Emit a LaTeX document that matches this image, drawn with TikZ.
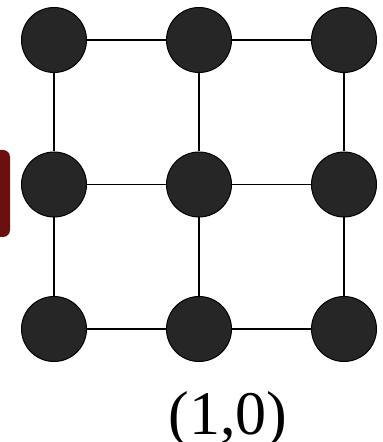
\documentclass[tikz,border=0pt]{standalone}
\usepackage{fontspec}
\setmainfont{Liberation Serif}
\usetikzlibrary{positioning}
\definecolor{SiteGray}{HTML}{262626}
\definecolor{HoleRed}{HTML}{6B1010}
\tikzset{
  site/.style={circle, draw=black, line width=1pt, fill=SiteGray, minimum size=65pt, inner sep=0pt},
  marker/.style={draw=none, rounded corners=7pt, fill=HoleRed, minimum width=44pt, minimum height=87pt},
  bond/.style={line width=1.4pt, draw=black},
  coordlabel/.style={font=\fontsize{62}{62}\selectfont, inner sep=0pt, anchor=base}
}
\begin{document}
\begin{tikzpicture}[x=1pt, y=1pt, node distance=79pt]
  \useasboundingbox (0,0) rectangle (383,442);
  \node[marker] (hole) at (-12,248.5) {};
  \node[site] (s11) at (54,402) {};
  \node[site, right=of s11] (s12) {};
  \node[site, right=of s12] (s13) {};
  \node[site, below=78.5pt of s11] (s21) {};
  \node[site, right=of s21] (s22) {};
  \node[site, right=of s22] (s23) {};
  \node[site, below=78.5pt of s21] (s31) {};
  \node[site, right=of s31] (s32) {};
  \node[site, right=of s32] (s33) {};
  \draw[bond] (s11) -- (s12);
  \draw[bond] (s12) -- (s13);
  \draw[bond] (s21) -- (s22);
  \draw[bond] (s22) -- (s23);
  \draw[bond] (s31) -- (s32);
  \draw[bond] (s32) -- (s33);
  \draw[bond] (s11) -- (s21);
  \draw[bond] (s21) -- (s31);
  \draw[bond] (s12) -- (s22);
  \draw[bond] (s22) -- (s32);
  \draw[bond] (s13) -- (s23);
  \draw[bond] (s23) -- (s33);
  \node[coordlabel] (label) at (228,7) {(1,0)};
\end{tikzpicture}
\end{document}
